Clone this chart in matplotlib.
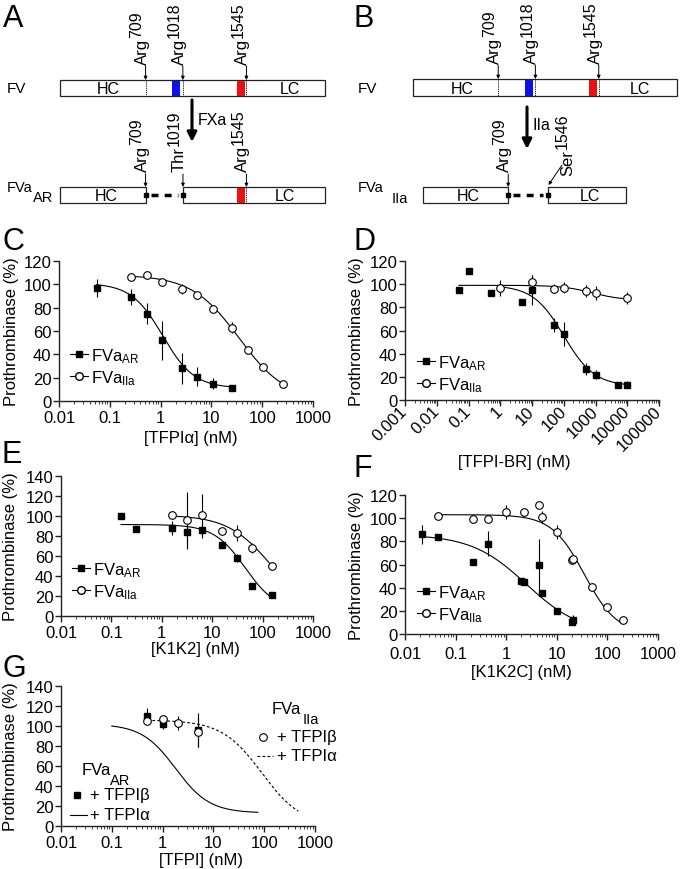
import numpy as np
import matplotlib
matplotlib.use("Agg")
import matplotlib.pyplot as plt
from matplotlib.lines import Line2D
from matplotlib.patches import Rectangle
from matplotlib.ticker import FixedLocator, LogLocator, NullFormatter

plt.rcParams['font.family'] = ['Liberation Sans', 'DejaVu Sans']
plt.rcParams['mathtext.fontset'] = 'custom'
plt.rcParams['mathtext.rm'] = 'Liberation Sans'
plt.rcParams['mathtext.it'] = 'Liberation Sans:italic'
plt.rcParams['mathtext.bf'] = 'Liberation Sans:bold'
plt.rcParams['font.size'] = 12

W, H = 680, 870

# ---- datos ----
# C: [TFPIa]
c_ar_x = [0.055, 0.26, 0.54, 1.07, 2.6, 5.2, 10.7, 26]
c_ar_y = [97, 89, 75, 52, 28, 21, 15, 11]
c_ar_e = [8, 7, 9, 17, 13, 8, 5, 1]
c_iia_x = [0.26, 0.54, 1.07, 2.6, 5.2, 10.7, 26, 53, 105, 260]
c_iia_y = [106, 108, 102, 96, 91, 79, 63, 44, 29, 15]
c_iia_e = [1, 1, 2, 4, 1, 1, 5, 2, 1, 1]

# D: [TFPI-BR]
d_ar_x = [0.05, 0.1, 0.5, 5, 10, 50, 100, 500, 1000, 5000, 10000]
d_ar_y = [95, 111, 92, 85, 95, 65, 57, 27, 22, 13, 13]
d_ar_e = [0, 0, 0, 0, 13, 6, 10, 5, 4, 1, 3]
d_iia_x = [1, 10, 50, 100, 500, 1000, 10000]
d_iia_y = [97, 102, 96, 97, 94, 92, 88]
d_iia_e = [7, 6, 4, 5, 5, 6, 5]

# E: [K1K2]
e_ar_x = [0.156, 0.3125, 1.56, 3.125, 6.25, 15.6, 31.25, 62.5, 156]
e_ar_y = [100, 87, 88, 84, 86, 71, 58, 30, 21]
e_ar_e = [0, 0, 7, 17, 8, 0, 4, 0, 0]
e_iia_x = [1.56, 3.125, 6.25, 15.6, 31.25, 62.5, 156]
e_iia_y = [101, 96, 101, 85, 83, 68, 50]
e_iia_e = [4, 28, 21, 0, 8, 5, 0]

# F: [K1K2C]
f_ar_x = [0.022, 0.044, 0.22, 0.44, 2.0, 2.2, 4.4, 5.0, 10, 20, 21]
f_ar_y = [86, 84, 62, 78, 46, 45, 60, 35, 20, 10, 12]
f_ar_e = [8, 1, 1, 11, 1, 1, 22, 1, 1, 1, 4]
f_iia_x = [0.044, 0.22, 0.44, 1.0, 2.2, 4.4, 5.0, 10, 20, 21, 50, 100, 200]
f_iia_y = [102, 99, 99.5, 105, 105, 111, 101, 88, 64, 65, 41, 23, 12]
f_iia_e = [1, 1, 1, 6, 1, 1, 5, 6, 1, 1, 1, 1, 1]

# G: [TFPI]
g_ar_x = [0.5, 1.0, 5.0]
g_ar_y = [110, 102, 96]
g_ar_e = [8, 5, 17]
g_iia_x = [0.5, 1.0, 2.0, 5.0]
g_iia_y = [105, 107, 103, 94]
g_iia_e = [2, 2, 7, 15]

# ajustes: top, bottom, IC50, Hill, x inicial, x final
c_ar_fit = [101, 11, 1.1, 1.4, 0.055, 26]
c_iia_fit = [108, 0, 35, 0.93, 0.26, 260]
d_ar_fit = [99, 12, 100, 0.9, 1, 10000]
d_iia_fit = [99, 86, 800, 0.9, 0.05, 10000]
e_ar_fit = [91.5, 5, 45, 1.4, 0.156, 156]
e_iia_fit = [101, 0, 150, 1.0, 1.56, 156]
f_ar_fit = [86, 0, 2.5, 0.8, 0.022, 21]
f_iia_fit = [103, 0, 35, 1.35, 0.044, 200]
g_ar_tfpia = [102, 13, 1.8, 1.3, 0.1, 75]
g_iia_tfpia = [106, 0, 90, 1.1, 0.5, 470]

ticks_std = [0.01, 0.1, 1, 10, 100, 1000]
labels_std = ["0.01", "0.1", "1", "10", "100", "1000"]
ticks_d = [0.001, 0.01, 0.1, 1, 10, 100, 1000, 10000, 100000]
labels_d = ["0.001", "0.01", "0.1", "1", "10", "100", "1000", "10000", "100000"]

# dominios del factor V (residuos)
FV_LEN = 2196
sites = [709, 1018, 1545]
basic_region = (930, 995)
acidic_region = (1467, 1533)

lab_ar = r"FVa$_{\mathrm{AR}}$"
lab_iia = r"FVa$_{\mathrm{IIa}}$"

fig = plt.figure(figsize=(6.8, 8.7), dpi=100)
renderer = fig.canvas.get_renderer()


def make_axes(l, t, r, b):
    return fig.add_axes([l / W, 1 - b / H, (r - l) / W, (b - t) / H])


def style(ax, ymax, xticks, xlabels, xlabel, xl_pos, yl_x, xpad, rot=False):
    ax.set_xscale('log')
    ax.set_xlim(xticks[0], xticks[-1])
    ax.set_ylim(0, ymax)
    ax.set_yticks(range(0, ymax + 1, 20))
    ax.xaxis.set_major_locator(FixedLocator(xticks))
    ax.xaxis.set_minor_locator(LogLocator(base=10, subs=np.arange(2, 10), numticks=20))
    ax.xaxis.set_minor_formatter(NullFormatter())
    if rot:
        ax.set_xticklabels(xlabels, rotation=45, ha='right', va='center',
                           rotation_mode='anchor')
    else:
        ax.set_xticklabels(xlabels)
    for s in ['top', 'right']:
        ax.spines[s].set_visible(False)
    for s in ['left', 'bottom']:
        ax.spines[s].set_linewidth(1.0)
        ax.spines[s].set_color('#222222')
    ax.tick_params(which='major', direction='out', length=4, width=1,
                   color='#222222', labelsize=12, pad=1.5)
    ax.tick_params(axis='x', which='major', pad=xpad)
    ax.tick_params(which='minor', direction='out', length=2, width=0.6,
                   color='#222222')
    ax.tick_params(axis='y', which='minor', left=False)
    ax.set_xlabel(xlabel, fontsize=12)
    ax.xaxis.label.set_va('center')
    ax.xaxis.set_label_coords(*xl_pos)
    ax.set_ylabel("Prothrombinase (%)", fontsize=12)
    ax.yaxis.label.set_va('center')
    ax.yaxis.set_label_coords(yl_x, 0.5)


def squares(ax, x, y, e):
    ax.errorbar(x, y, yerr=e, fmt='s', ms=5, mfc='k', mec='k', ecolor='k',
                elinewidth=0.8, capsize=0, zorder=3)


def circles(ax, x, y, e):
    ax.errorbar(x, y, yerr=e, fmt='o', ms=5.5, mfc='white', mec='k', mew=0.8,
                ecolor='k', elinewidth=0.8, capsize=0, zorder=4)


def fit_curve(ax, p, **kw):
    top, bot, ic50, hill, lo, hi = p
    xs = np.logspace(np.log10(lo), np.log10(hi), 200)
    ax.plot(xs, bot + (top - bot) / (1 + (xs / ic50) ** hill), color='k',
            lw=0.8, zorder=2, **kw)


def add_legend(ax, x, y):
    h = [Line2D([], [], color='k', lw=0.8, marker='s', ms=5, mfc='k', mec='k'),
         Line2D([], [], color='k', lw=0.8, marker='o', ms=5.5, mfc='white', mec='k')]
    ax.legend(h, [lab_ar, lab_iia], loc='upper left',
              bbox_to_anchor=(x / W, 1 - y / H), bbox_transform=fig.transFigure,
              frameon=False, fontsize=12, handlelength=1.1, handletextpad=0.15,
              labelspacing=0.2, borderpad=0, borderaxespad=0)


# ---- C ----
ax = make_axes(59, 262, 313, 402)
fit_curve(ax, c_ar_fit)
fit_curve(ax, c_iia_fit)
squares(ax, c_ar_x, c_ar_y, c_ar_e)
circles(ax, c_iia_x, c_iia_y, c_iia_e)
style(ax, 120, ticks_std, labels_std, "[TFPIα] (nM)", (0.52, -37 / 140), -47 / 254,
      xpad=2.7)
add_legend(ax, 70, 347)

# ---- D ----
ax = make_axes(405, 262, 659, 401)
fit_curve(ax, d_ar_fit)
fit_curve(ax, d_iia_fit)
squares(ax, d_ar_x, d_ar_y, d_ar_e)
circles(ax, d_iia_x, d_iia_y, d_iia_e)
style(ax, 120, ticks_d, labels_d, "[TFPI-BR] (nM)", (0.43, -61 / 139), -48 / 254,
      xpad=2, rot=True)
add_legend(ax, 417, 354)

# ---- E ----
ax = make_axes(61, 477, 313, 617)
fit_curve(ax, e_ar_fit)
fit_curve(ax, e_iia_fit)
squares(ax, e_ar_x, e_ar_y, e_ar_e)
circles(ax, e_iia_x, e_iia_y, e_iia_e)
style(ax, 140, ticks_std, labels_std, "[K1K2] (nM)", (0.535, -33 / 140), -50 / 252,
      xpad=2.2)
add_legend(ax, 72, 561)

# ---- F ----
ax = make_axes(405, 496, 658, 635)
fit_curve(ax, f_ar_fit)
fit_curve(ax, f_iia_fit)
squares(ax, f_ar_x, f_ar_y, f_ar_e)
circles(ax, f_iia_x, f_iia_y, f_iia_e)
style(ax, 120, ticks_std, labels_std, "[K1K2C] (nM)", (0.46, -38 / 139), -48 / 253,
      xpad=4.5)
add_legend(ax, 417, 584)

# ---- G ----
ax = make_axes(61, 687, 315, 827)
fit_curve(ax, g_ar_tfpia)
fit_curve(ax, g_iia_tfpia, ls=(0, (2.5, 2)))
squares(ax, g_ar_x, g_ar_y, g_ar_e)
circles(ax, g_iia_x, g_iia_y, g_iia_e)
style(ax, 140, ticks_std, labels_std, "[TFPI] (nM)", (0.55, -34 / 140), -50 / 254,
      xpad=2.2)

# capa superior en pixeles (esquemas, leyenda de G)
oax = fig.add_axes([0, 0, 1, 1], zorder=10)
oax.set_xlim(0, W)
oax.set_ylim(H, 0)
oax.axis('off')

# leyenda de G
oax.text(82, 775, "FVa", fontsize=12)
oax.text(110, 785, "AR", fontsize=10.5)
oax.plot([77], [796], ls='none', marker='s', ms=5, mfc='k', mec='k')
oax.text(90, 796, "+ TFPIβ", fontsize=12, va='center')
oax.plot([70, 87], [816, 816], color='k', lw=0.8)
oax.text(90, 816, "+ TFPIα", fontsize=12, va='center')
oax.text(272, 714, "FVa", fontsize=12)
oax.text(303, 724, "IIa", fontsize=10.5)
oax.plot([263], [738], ls='none', marker='o', ms=5.5, mfc='white', mec='k', mew=0.8)
oax.text(277, 738, "+ TFPIβ", fontsize=12, va='center')
oax.plot([257, 273], [757, 757], color='k', lw=0.8, ls=(0, (2.5, 2)))
oax.text(277, 757, "+ TFPIα", fontsize=12, va='center')


def rot_label(x, yb, main, sup, fs=12, fs_sup=11.5):
    t = oax.text(x + 1, yb, main, rotation=90, rotation_mode='anchor',
                 ha='left', va='baseline', fontsize=fs)
    hgt = t.get_window_extent(renderer).height
    oax.text(x - 4, yb - hgt - 1, sup, rotation=90, rotation_mode='anchor',
             ha='left', va='baseline', fontsize=fs_sup)


def small_arrow(x0, y0, x1, y1):
    oax.annotate('', xy=(x1, y1), xytext=(x0, y0),
                 arrowprops=dict(arrowstyle='-|>', color='k', lw=0.7,
                                 mutation_scale=5, shrinkA=0, shrinkB=0))


def big_arrow(x, y0, y1):
    oax.annotate('', xy=(x, y1), xytext=(x, y0),
                 arrowprops=dict(arrowstyle='-|>', color='k', lw=2.2,
                                 mutation_scale=14, shrinkA=0, shrinkB=0))


def bar(x0, x1, y0, y1):
    oax.add_patch(Rectangle((x0, y0), x1 - x0, y1 - y0, fc='white', ec='#222222',
                            lw=0.9, zorder=1))


def region(x0, x1, y0, y1, c):
    oax.add_patch(Rectangle((x0, y0), x1 - x0, y1 - y0, fc=c, ec='none', zorder=2))


def dotted(x, y0, y1):
    oax.plot([x, x], [y0, y1], color='k', lw=0.7, ls=(0, (1, 1)), zorder=3)


def gap(x0, x1, y):
    oax.plot([x0 + 5, x1 - 5], [y, y], color='k', lw=2.5, ls=(0, (2.0, 1.8)),
             solid_capstyle='butt')
    oax.plot([x0, x1], [y, y], ls='none', marker='s', ms=2.2, color='k')


def fv_row(x0, sc, y0, y1, hc_x, lc_x):
    rx = lambda r: x0 + r * sc
    bar(x0, rx(FV_LEN), y0, y1)
    region(rx(basic_region[0]), rx(basic_region[1]), y0 + 0.5, y1 - 0.5, '#1010ee')
    region(rx(acidic_region[0]), rx(acidic_region[1]), y0 + 0.5, y1 - 0.5, '#ee1010')
    for s in sites:
        dotted(rx(s), y0, y1)
        small_arrow(rx(s), y0 - 14, rx(s), y0)
        rot_label(rx(s), y0 - 16, "Arg", str(s))
    oax.text(hc_x, (y0 + y1) / 2 + 0.5, "HC", ha='center', va='center', fontsize=11.5)
    oax.text(lc_x, (y0 + y1) / 2 + 0.5, "LC", ha='center', va='center', fontsize=11.5)
    return rx


# A
rx = fv_row(60, 265 / FV_LEN, 81, 97, 108, 290)
oax.text(7, 93, "FV", fontsize=11)
big_arrow(192, 101, 143)
oax.text(198, 125, "FXa", fontsize=11.5)
ly0, ly1 = 188, 204
bar(60, rx(709), ly0, ly1)
bar(rx(1019), rx(FV_LEN), ly0, ly1)
region(rx(acidic_region[0]), rx(acidic_region[1]), ly0 + 0.5, ly1 - 0.5, '#ee1010')
dotted(rx(1545), ly0, ly1)
gap(rx(709), rx(1019), 196)
for res, aa in [(709, "Arg"), (1019, "Thr"), (1545, "Arg")]:
    small_arrow(rx(res), 175, rx(res), ly0)
    rot_label(rx(res), 172, aa, str(res))
oax.text(106, 196.5, "HC", ha='center', va='center', fontsize=11.5)
oax.text(285, 196.5, "LC", ha='center', va='center', fontsize=11.5)
oax.text(7, 192, "FVa", fontsize=10.5)
oax.text(33, 202, "AR", fontsize=10.5)

# B
rx = fv_row(413, 264 / FV_LEN, 80, 97, 462, 640)
oax.text(358, 93, "FV", fontsize=11)
big_arrow(527, 108, 150)
oax.text(533, 130, "IIa", fontsize=11.5)
sc = 264 / FV_LEN
hc0 = 423
hc1 = hc0 + 709 * sc
lc0 = 548
lc1 = lc0 + (FV_LEN - 1546) * sc
bar(hc0, hc1, ly0, ly1)
bar(lc0, lc1, ly0, ly1)
gap(hc1, lc0, 196)
small_arrow(hc1, 175, hc1, ly0)
rot_label(hc1, 172, "Arg", "709")
small_arrow(562, 166, lc0 + 0.5, 186)
rot_label(571, 176, "Ser", "1546")
oax.text(468, 196.5, "HC", ha='center', va='center', fontsize=11.5)
oax.text(590, 196.5, "LC", ha='center', va='center', fontsize=11.5)
oax.text(358, 192, "FVa", fontsize=10.5)
oax.text(392, 203, "IIa", fontsize=10.5)

# letras de panel
for letter, x, y in [("A", 3, 27), ("B", 353, 27), ("C", 2, 250), ("D", 353, 250),
                     ("E", 2, 463), ("F", 353, 477), ("G", 2, 677)]:
    oax.text(x, y, letter, fontsize=22, ha='left', va='baseline')

fig.savefig("out.png", dpi=100)
